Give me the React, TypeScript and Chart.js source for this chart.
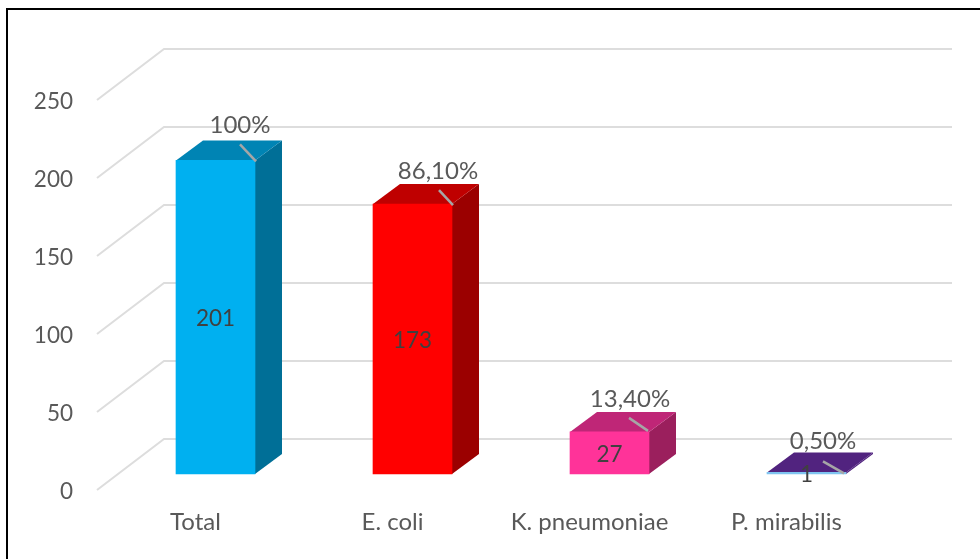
import { useEffect, useRef } from "react";
import { Chart, registerables } from "chart.js";

Chart.register(...registerables);

const categories = ["Total", "E. coli", "K. pneumoniae", "P. mirabilis"];
const counts = [201, 173, 27, 1];
const percentLabels = ["100%", "86,10%", "13,40%", "0,50%"];
const yTicks = { min: 0, max: 250, step: 50 };

const frontColors = ["#00B0F0", "#FF0000", "#FF3399", "#7FC4F0"];
const topColors = ["#0084B4", "#BF0000", "#BF2677", "#51237F"];
const sideColors = ["#006F97", "#9B0000", "#9B1F5D", "#51237F"];

// Perspective offsets of the extruded drawing
const WALL_DX = 67;
const WALL_DY = -51;
const BAR_DX = 20;
const BAR_DY = -16;
const DEPTH_DX = 27;
const DEPTH_DY = -20;

// Callout placement relative to the top right corner of each bar's front face:
// [label x, label y, leader start x, leader start y, leader end x, leader end y]
const callouts = [
  [-15, -36, -15, -16, 1, 1],
  [-14, -34, -13, -14, 1, 1],
  [-19, -34, -20, -14, -1, -1],
  [-23, -32, -23, -11, -2, 1],
];

const FONT_FAMILY = "Lato, 'Open Sans', sans-serif";
const LABEL_SIZE = 24;
const NUMBER_SIZE = 22.5;

const poly = (ctx: CanvasRenderingContext2D, pts: number[][], fill: string) => {
  ctx.beginPath();
  pts.forEach(([x, y], i) => (i ? ctx.lineTo(x, y) : ctx.moveTo(x, y)));
  ctx.closePath();
  ctx.fillStyle = fill;
  ctx.fill();
};

const extrudedBars = {
  id: "extrudedBars",
  beforeDatasetsDraw(chart: any) {
    const { ctx, chartArea, scales } = chart;
    ctx.save();

    // Axis wall and floor lines
    ctx.strokeStyle = "#DDDDDD";
    ctx.lineWidth = 2;
    scales.y.ticks.forEach((t: any) => {
      const y = scales.y.getPixelForValue(t.value);
      ctx.beginPath();
      ctx.moveTo(chartArea.left, y);
      ctx.lineTo(chartArea.left + WALL_DX, y + WALL_DY);
      ctx.lineTo(chartArea.right + WALL_DX, y + WALL_DY);
      ctx.stroke();
    });

    // The bars stand partway back on the floor
    ctx.translate(BAR_DX, BAR_DY);
    chart.getDatasetMeta(0).data.forEach((bar: any, i: number) => {
      const l = bar.x - bar.width / 2;
      const r = bar.x + bar.width / 2;
      poly(ctx, [[r, bar.y], [r + DEPTH_DX, bar.y + DEPTH_DY], [r + DEPTH_DX, bar.base + DEPTH_DY], [r, bar.base]], sideColors[i]);
      poly(ctx, [[l, bar.y], [l + DEPTH_DX, bar.y + DEPTH_DY], [r + DEPTH_DX, bar.y + DEPTH_DY], [r, bar.y]], topColors[i]);
    });
  },
  afterDatasetsDraw(chart: any) {
    const { ctx } = chart;
    ctx.restore();

    ctx.save();
    ctx.translate(BAR_DX, BAR_DY);
    ctx.textAlign = "center";
    ctx.textBaseline = "middle";
    chart.getDatasetMeta(0).data.forEach((bar: any, i: number) => {
      const r = bar.x + bar.width / 2;
      const [lx, ly, sx, sy, ex, ey] = callouts[i];

      ctx.strokeStyle = "#A6A6A6";
      ctx.lineWidth = 2.5;
      ctx.beginPath();
      ctx.moveTo(r + sx, bar.y + sy);
      ctx.lineTo(r + ex, bar.y + ey);
      ctx.stroke();

      ctx.fillStyle = "#404040";
      ctx.font = `${NUMBER_SIZE}px ${FONT_FAMILY}`;
      ctx.fillText(String(counts[i]), bar.x, (bar.y + bar.base) / 2 + 2);
      ctx.fillStyle = "#595959";
      ctx.font = `${LABEL_SIZE}px ${FONT_FAMILY}`;
      ctx.fillText(percentLabels[i], r + lx, bar.y + ly + 1);
    });
    ctx.restore();
  },
};

export default function App() {
  const canvasRef = useRef<HTMLCanvasElement | null>(null);

  useEffect(() => {
    const chart = new Chart(canvasRef.current!, {
      type: "bar",
      data: {
        labels: categories,
        datasets: [
          {
            data: counts,
            backgroundColor: frontColors,
            barThickness: 79,
            clip: false,
          },
        ],
      },
      plugins: [extrudedBars],
      options: {
        responsive: false,
        animation: false,
        layout: { padding: { top: 100, right: 95, left: 0, bottom: 0 } },
        plugins: { legend: { display: false }, tooltip: { enabled: false } },
        scales: {
          x: {
            grid: { display: false },
            border: { display: false },
            afterFit: (s: any) => {
              s.height = 69;
            },
            ticks: {
              color: "#595959",
              padding: 10,
              maxRotation: 0,
              autoSkip: false,
              font: { family: FONT_FAMILY, size: LABEL_SIZE },
            },
          },
          y: {
            min: yTicks.min,
            max: yTicks.max,
            grid: { display: false },
            border: { display: false },
            afterFit: (s: any) => {
              s.width = 97;
            },
            ticks: {
              stepSize: yTicks.step,
              color: "#595959",
              padding: 16,
              labelOffset: 2,
              font: { family: FONT_FAMILY, size: NUMBER_SIZE },
            },
          },
        },
      },
    } as any);
    return () => chart.destroy();
  }, []);

  return (
    <div style={{ position: "absolute", left: 0, top: 0, width: 980, height: 559, background: "#fff", overflow: "hidden" }}>
      <canvas ref={canvasRef} width={980} height={559} style={{ display: "block" }} />
      <div style={{ position: "absolute", left: 6, top: 8, right: 0, bottom: 0, borderLeft: "2px solid #000", borderTop: "2px solid #000" }} />
    </div>
  );
}
